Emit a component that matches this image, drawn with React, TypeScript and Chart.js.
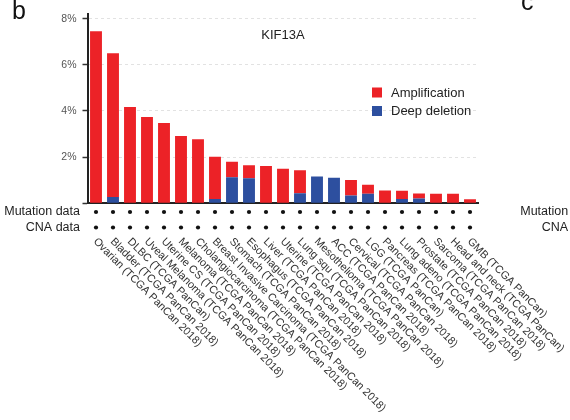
import React, { useEffect, useRef } from "react";
import { Chart, registerables } from "chart.js";

Chart.register(...registerables);

const categories = [
  "Ovarian (TCGA PanCan 2018)",
  "Bladder (TCGA PanCan 2018)",
  "DLBC (TCGA PanCan)",
  "Uveal Melanoma (TCGA PanCan 2018)",
  "Uterine CS (TCGA PanCan 2018)",
  "Melanoma (TCGA PanCan 2018)",
  "Cholangiocarcinoma (TCGA PanCan 2018)",
  "Breast Invasive Carcinoma (TCGA PanCan 2018)",
  "Stomach (TCGA PanCan 2018)",
  "Esophagus (TCGA PanCan 2018)",
  "Liver (TCGA PanCan 2018)",
  "Uterine (TCGA PanCan 2018)",
  "Lung squ (TCGA PanCan 2018)",
  "Mesothelioma (TCGA PanCan 2018)",
  "ACC (TCGA PanCan 2018)",
  "Cervical (TCGA PanCan 2018)",
  "LGG (TCGA PanCan)",
  "Pancreas (TCGA PanCan 2018)",
  "Lung adeno (TCGA PanCan 2018)",
  "Prostate (TCGA PanCan 2018)",
  "Sarcoma (TCGA PanCan 2018)",
  "Head and neck (TCGA PanCan)",
  "GMB (TCGA PanCan)",
];

const deepDeletion = [0, 0.27, 0, 0, 0, 0, 0, 0.19, 1.13, 1.09, 0, 0, 0.44, 1.16, 1.11, 0.34, 0.41, 0, 0.19, 0.21, 0, 0, 0];
const amplification = [7.45, 6.23, 4.17, 3.74, 3.48, 2.91, 2.77, 1.83, 0.67, 0.56, 1.62, 1.5, 0.99, 0, 0, 0.67, 0.39, 0.55, 0.35, 0.21, 0.41, 0.41, 0.18];

const yTicks = [0, 2, 4, 6, 8];
const yMax = 8.2;

const geneTitle = "KIF13A";
const legendLabels = ["Amplification", "Deep deletion"];
const rowLabels = ["Mutation data", "CNA data"];

const RED = "#ec2227";
const BLUE = "#2d4f9f";
const FONT = '"Liberation Sans", Arial, sans-serif';

const overlayPlugin = {
  id: "overlay",
  afterDraw(chart: any) {
    const ctx = chart.ctx as CanvasRenderingContext2D;
    const area = chart.chartArea;
    const xs = chart.scales.x;
    ctx.save();

    // panel letters
    ctx.fillStyle = "#111";
    ctx.font = `25px ${FONT}`;
    ctx.textAlign = "left";
    ctx.textBaseline = "alphabetic";
    ctx.fillText("b", 12, 19);
    ctx.fillText("c", 521, 10);

    // title
    ctx.fillStyle = "#222";
    ctx.font = `13px ${FONT}`;
    ctx.textAlign = "center";
    ctx.textBaseline = "middle";
    ctx.fillText(geneTitle, (area.left + area.right) / 2, 35);

    // legend
    const legColors = [RED, BLUE];
    ctx.textAlign = "left";
    ctx.font = `13px ${FONT}`;
    legendLabels.forEach((lab, i) => {
      const y = 92.5 + i * 18.5;
      ctx.fillStyle = legColors[i];
      ctx.fillRect(372, y - 5, 10, 10);
      ctx.fillStyle = "#222";
      ctx.fillText(lab, 391, y + 0.5);
    });

    // row labels
    ctx.font = `12.5px ${FONT}`;
    ctx.fillStyle = "#222";
    ctx.textAlign = "right";
    const rowY = [212, 227.5];
    rowLabels.forEach((lab, i) => {
      ctx.fillText(lab, 80, rowY[i]);
      ctx.fillText(lab, 596, rowY[i]);
    });

    // dots
    ctx.fillStyle = "#111";
    categories.forEach((_, i) => {
      const x = xs.getPixelForValue(i);
      rowY.forEach((y) => {
        ctx.beginPath();
        ctx.arc(x, y, 2.1, 0, Math.PI * 2);
        ctx.fill();
      });
    });

    // rotated category labels
    ctx.font = `10.9px ${FONT}`;
    ctx.fillStyle = "#333";
    ctx.textAlign = "left";
    ctx.textBaseline = "middle";
    const ang = (45 * Math.PI) / 180;
    categories.forEach((lab, i) => {
      const x = xs.getPixelForValue(i);
      ctx.save();
      ctx.translate(x - 1, 240);
      ctx.rotate(ang);
      ctx.fillText(lab, 0, 0);
      ctx.restore();
    });

    ctx.restore();
  },
};

export default function App() {
  const ref = useRef<HTMLCanvasElement | null>(null);

  useEffect(() => {
    if (!ref.current) return;
    const chart = new Chart(ref.current, {
      type: "bar",
      data: {
        labels: categories,
        datasets: [
          {
            label: legendLabels[1],
            data: deepDeletion,
            backgroundColor: BLUE,
            borderWidth: 0,
            barPercentage: 0.7,
            categoryPercentage: 1,
          },
          {
            label: legendLabels[0],
            data: amplification,
            backgroundColor: RED,
            borderWidth: 0,
            barPercentage: 0.7,
            categoryPercentage: 1,
          },
        ],
      },
      options: {
        responsive: false,
        animation: false,
        layout: { padding: { left: 0, right: 91.5, top: 14, bottom: 216.7 } },
        plugins: {
          legend: { display: false },
          tooltip: { enabled: false },
          title: { display: false },
        },
        scales: {
          x: {
            stacked: true,
            ticks: { display: false },
            grid: { display: false },
            border: { display: true, color: "#222", width: 2 },
            afterFit: (scale: any) => {
              scale.height = 0;
            },
          },
          y: {
            stacked: true,
            min: 0,
            max: yMax,
            afterBuildTicks: (scale: any) => {
              scale.ticks = yTicks.map((v) => ({ value: v }));
            },
            ticks: {
              includeBounds: false,
              padding: 6,
              color: "#555",
              font: { size: 10.5, family: FONT },
              callback: (v: any) => (v === 0 ? "" : `${v}%`),
            },
            grid: {
              color: (c: any) => (c.tick && c.tick.value === 0 ? "rgba(0,0,0,0)" : "#e2e2e2"),
              lineWidth: 1,
              tickColor: "#333",
              tickLength: 5,
              tickWidth: 1.5,
            },
            border: { display: true, color: "#222", width: 2, dash: [3, 3] },
            afterFit: (scale: any) => {
              scale.width = 87.5;
            },
          },
        },
      },
      plugins: [overlayPlugin],
    });
    return () => chart.destroy();
  }, []);

  return (
    <canvas
      ref={ref}
      width={570}
      height={420}
      style={{ position: "fixed", left: 0, top: 0, width: 570, height: 420, display: "block", background: "#fff" }}
    />
  );
}
